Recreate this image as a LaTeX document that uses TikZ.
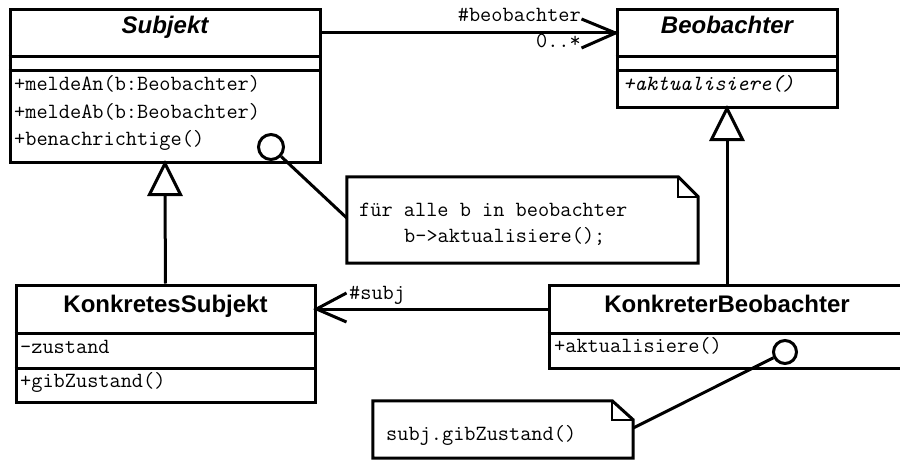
\documentclass[tikz,border=0pt]{standalone}
\usepackage{fontspec}
\setmainfont{Liberation Sans}
\usetikzlibrary{calc}
\begin{document}
\begin{tikzpicture}[x=1pt,y=-1pt,
  umlbox/.style={draw, line width=3pt, fill=white, inner sep=0pt},
  sepline/.style={line width=3pt},
  conn/.style={line width=3pt},
  title/.style={inner sep=0pt, anchor=base, font=\fontsize{24}{28}\selectfont\bfseries},
  member/.style={inner sep=0pt, anchor=base west, font=\fontsize{21.7}{25}\selectfont\ttfamily},
  lbl/.style={inner sep=0pt, font=\fontsize{21.7}{25}\selectfont\ttfamily},
  pin/.style={circle, draw, line width=3pt, fill=white, minimum size=25pt, inner sep=0pt},
  noteframe/.style={inner sep=0pt},
  noteline/.style={line width=3pt, fill=white},
  foldline/.style={line width=2pt},
  inherit/.style={line width=3pt, fill=white, line join=miter},
]
\useasboundingbox (0,0) rectangle (900,460);
\clip (0,0) rectangle (900,460);

% ---- classes ----
\node[umlbox, minimum width=310pt, minimum height=152pt] (subj) at (165,86) {};
\node[umlbox, minimum width=220pt, minimum height=97pt] (beob) at (727,58.5) {};
\node[umlbox, minimum width=299pt, minimum height=117pt] (ksubj) at (165.5,343.5) {};
\node[umlbox, minimum width=356pt, minimum height=83pt] (kbeob) at (727,326.5) {};

% compartments
\draw[sepline] (subj.west |- 0,57) -- (subj.east |- 0,57);
\draw[sepline] (subj.west |- 0,71) -- (subj.east |- 0,71);
\draw[sepline] (beob.west |- 0,57) -- (beob.east |- 0,57);
\draw[sepline] (beob.west |- 0,71) -- (beob.east |- 0,71);
\draw[sepline] (ksubj.west |- 0,333) -- (ksubj.east |- 0,333);
\draw[sepline] (ksubj.west |- 0,368) -- (ksubj.east |- 0,368);
\draw[sepline] (kbeob.west |- 0,333) -- (kbeob.east |- 0,333);

% class names
\node[title] (subjT) at (165,34) {\itshape Subjekt};
\node[title] (beobT) at (727,34) {\itshape Beobachter};
\node[title] (ksubjT) at (165.5,312) {KonkretesSubjekt};
\node[title] (kbeobT) at (727,312) {KonkreterBeobachter};

% members
\node[member] (m1) at (14,91) {+meldeAn(b:Beobachter)};
\node[member] (m2) at (14,118) {+meldeAb(b:Beobachter)};
\node[member] (m3) at (14,145) {+benachrichtige()};
\node[member] (m4) at (623,90) {\itshape +aktualisiere()};
\node[member] (m5) at (20,353) {-zustand};
\node[member] (m6) at (20,387) {+gibZustand()};
\node[member] (m7) at (554,352) {+aktualisiere()};

% ---- association Subjekt -> Beobachter ----
\coordinate (a1) at (beob.west |- 0,33);
\draw[conn] (subj.east |- a1) -- (a1);
\draw[conn] ($(a1)+(-34,-14)$) -- (a1) -- ($(a1)+(-34,15)$);
\node[lbl, anchor=base east] (l1) at (581,22) {\#beobachter};
\node[lbl, anchor=base east] (l2) at (581,48) {0..*};

% ---- association KonkreterBeobachter -> KonkretesSubjekt ----
\coordinate (a2) at (ksubj.east |- 0,309);
\draw[conn] (kbeob.west |- a2) -- (a2);
\draw[conn] ($(a2)+(30,-16)$) -- (a2) -- ($(a2)+(30,13)$);
\node[lbl, anchor=base west] (l3) at (349,299) {\#subj};

% ---- generalisations ----
\coordinate (t1) at (subj.south);
\draw[conn] ($(t1)+(0,31)$) -- (ksubj.north);
\draw[inherit] (t1) -- ++(-15.5,31) -- ++(31,0) -- cycle;
\coordinate (t2) at (beob.south);
\draw[conn] ($(t2)+(0,31)$) -- (kbeob.north);
\draw[inherit] (t2) -- ++(-15.5,31) -- ++(31,0) -- cycle;

% ---- notes ----
\node[noteframe, minimum width=351pt, minimum height=86pt] (note1) at (522.5,220) {};
\draw[noteline] (note1.north west) -- ($(note1.north east)+(-20,0)$) -- ($(note1.north east)+(0,20)$) -- (note1.south east) -- (note1.south west) -- cycle;
\draw[foldline] ($(note1.north east)+(-20,0)$) |- ($(note1.north east)+(0,20)$);
\node[member] (n1a) at (359,216) {für alle b in beobachter};
\node[member] (n1b) at (404,242) {b->aktualisiere();};

\node[noteframe, minimum width=260pt, minimum height=57pt] (note2) at (503,429.5) {};
\draw[noteline] (note2.north west) -- ($(note2.north east)+(-21,0)$) -- ($(note2.north east)+(0,19)$) -- (note2.south east) -- (note2.south west) -- cycle;
\draw[foldline] ($(note2.north east)+(-21,0)$) |- ($(note2.north east)+(0,19)$);
\node[member] (n2a) at (386,440) {subj.gibZustand()};

% ---- note anchors ----
\node[pin] (c1) at (271,147) {};
\draw[conn] (c1) -- (note1.west |- 0,218);
\node[pin, minimum size=23pt] (c2) at (785,352) {};
\draw[conn] (c2) -- (note2.east |- 0,428);
\end{tikzpicture}
\end{document}
